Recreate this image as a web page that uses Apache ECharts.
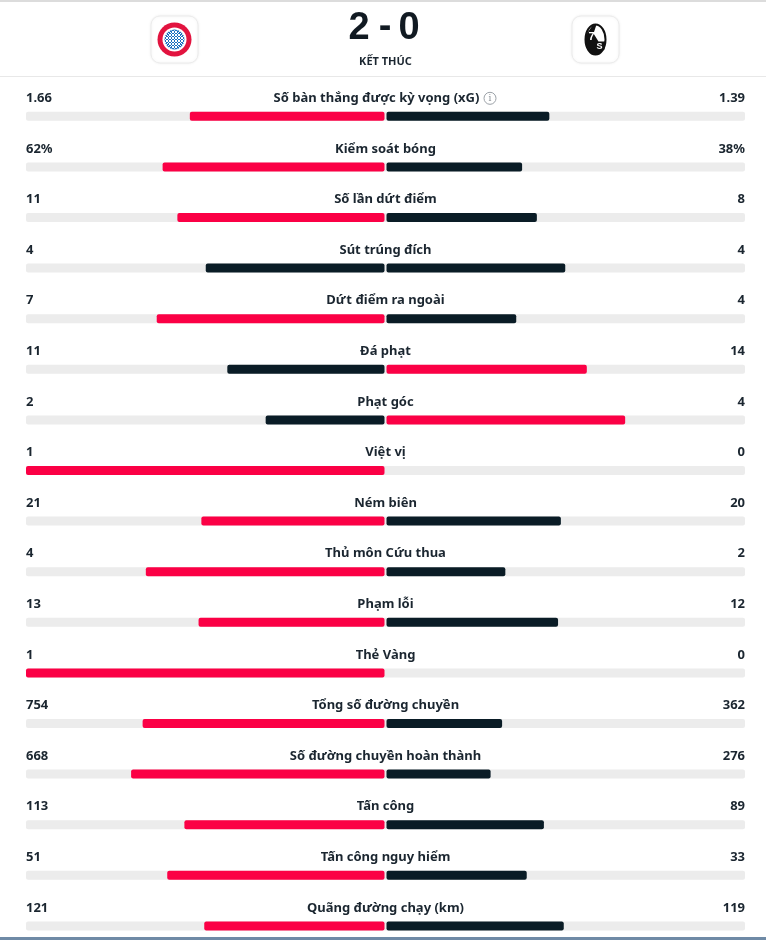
<!DOCTYPE html>
<html>
<head>
<meta charset="utf-8">
<script src="https://cdn.jsdelivr.net/npm/echarts@6/dist/echarts.min.js"></script>
<style>
html,body{margin:0;padding:0;background:#fff;}
#chart{width:766px;height:940px;}
</style>
</head>
<body>
<div id="chart"></div>
<script>
const labels = ['Số bàn thắng được kỳ vọng (xG)', 'Kiểm soát bóng', 'Số lần dứt điểm', 'Sút trúng đích', 'Dứt điểm ra ngoài', 'Đá phạt', 'Phạt góc', 'Việt vị', 'Ném biên', 'Thủ môn Cứu thua', 'Phạm lỗi', 'Thẻ Vàng', 'Tổng số đường chuyền', 'Số đường chuyền hoàn thành', 'Tấn công', 'Tấn công nguy hiểm', 'Quãng đường chạy (km)'];
const homeValues = [1.66, 62, 11, 4, 7, 11, 2, 1, 21, 4, 13, 1, 754, 668, 113, 51, 121];
const awayValues = [1.39, 38, 8, 4, 4, 14, 4, 0, 20, 2, 12, 0, 362, 276, 89, 33, 119];
const homeText = ['1.66', '62%', '11', '4', '7', '11', '2', '1', '21', '4', '13', '1', '754', '668', '113', '51', '121'];
const awayText = ['1.39', '38%', '8', '4', '4', '14', '4', '0', '20', '2', '12', '0', '362', '276', '89', '33', '119'];
const infoRows = [true, false, false, false, false, false, false, false, false, false, false, false, false, false, false, false, false];
const score = ['2', '-', '0'];
const status = 'KẾT THÚC';

const RED = '#fb0045', DARK = '#0a1c26', TRACK = '#ececec', TXT = '#1b2630';
const FONT = '"Noto Sans", "Liberation Sans", sans-serif';

const chart = echarts.init(document.getElementById('chart'), null, {renderer: 'canvas'});

function renderItem(params, api) {
  const i = params.dataIndex;
  const h = homeValues[i], a = awayValues[i];
  const tot = h + a;
  const hs = tot > 0 ? h / tot : 0, as = tot > 0 ? a / tot : 0;
  const yC = api.coord([0, i])[1];
  const xL = api.coord([-1, i])[0];
  const x0 = api.coord([0, i])[0];
  const xR = api.coord([1, i])[0];
  const xH = api.coord([-hs, i])[0];
  const xA = api.coord([as, i])[0];
  const bh = 9;
  const hColor = h > a ? RED : DARK;
  const aColor = a > h ? RED : DARK;
  const ty = yC - 18;
  const children = [
    {type: 'rect', shape: {x: xL, y: yC - bh / 2, width: xR - xL, height: bh, r: 2}, style: {fill: TRACK}},
  ];
  if (hs > 0) children.push({type: 'rect', shape: {x: xH, y: yC - bh / 2, width: Math.max(0, x0 - 1 - xH), height: bh, r: 2}, style: {fill: hColor}});
  if (as > 0) children.push({type: 'rect', shape: {x: x0 + 1, y: yC - bh / 2, width: Math.max(0, xA - x0 - 1), height: bh, r: 2}, style: {fill: aColor}});
  const lx = infoRows[i] ? x0 - 9 : x0;
  children.push(
    {type: 'text', style: {x: xL, y: ty, text: homeText[i], textAlign: 'left', textVerticalAlign: 'middle', fill: TXT, font: 'bold 13px ' + FONT}},
    {type: 'text', style: {x: lx, y: ty, text: labels[i], textAlign: 'center', textVerticalAlign: 'middle', fill: TXT, font: 'bold 13px ' + FONT}},
    {type: 'text', style: {x: xR, y: ty, text: awayText[i], textAlign: 'right', textVerticalAlign: 'middle', fill: TXT, font: 'bold 13px ' + FONT}}
  );
  if (infoRows[i]) {
    children.push(
      {type: 'circle', shape: {cx: x0 + 104.5, cy: ty, r: 6}, style: {fill: 'none', stroke: '#9aa0a6', lineWidth: 1}},
      {type: 'text', style: {x: x0 + 104.5, y: ty, text: 'i', textAlign: 'center', textVerticalAlign: 'middle', fill: '#8a9096', font: '9px "DejaVu Serif"'}}
    );
  }
  return {type: 'group', children};
}

// Bayern-like logo pieces
const bx = 174.5, by = 39.5;
const diamonds = [];
for (let k = -3; k <= 3; k++) {
  diamonds.push({type: 'line', shape: {x1: bx - 9 + k * 3, y1: by - 9, x2: bx + 9 + k * 3, y2: by + 9}, style: {stroke: '#ffffff', lineWidth: 1}});
  diamonds.push({type: 'line', shape: {x1: bx - 9 + k * 3, y1: by + 9, x2: bx + 9 + k * 3, y2: by - 9}, style: {stroke: '#ffffff', lineWidth: 1}});
}
const fx = 595.5, fy = 39.5;

// row pitch ~50.6px, first row centred at y=116; grid fills down to the bottom edge
const rowPitch = 50.6, gridTop = 91, gridHeight = 849;

const option = {
  animation: false,
  grid: {left: 26, right: 21, top: gridTop, height: gridHeight, outerBoundsMode: 'none'},
  xAxis: {type: 'value', min: -1, max: 1, show: false},
  yAxis: {type: 'value', inverse: true, min: -0.5, max: -0.5 + gridHeight / rowPitch, show: false},
  graphic: [
    {type: 'rect', shape: {x: 0, y: 0, width: 766, height: 2}, style: {fill: '#dcdcdc'}},
    {type: 'rect', shape: {x: 0, y: 76, width: 766, height: 1}, style: {fill: '#e8e8e8'}},
    {type: 'rect', shape: {x: 0, y: 937, width: 766, height: 3}, style: {fill: '#6f8aa6'}},
    // home logo box
    {type: 'rect', shape: {x: 151, y: 16, width: 47, height: 47, r: 9}, style: {fill: '#fff', stroke: '#ececec', lineWidth: 1, shadowBlur: 3, shadowColor: 'rgba(0,0,0,0.08)'}},
    {type: 'circle', shape: {cx: bx, cy: by, r: 17}, style: {fill: '#e2133f'}},
    {type: 'circle', shape: {cx: bx, cy: by, r: 12}, style: {fill: '#ffffff'}},
    {type: 'circle', shape: {cx: bx, cy: by, r: 10}, style: {fill: '#1c6fc0'}},
    {type: 'group', children: diamonds, clipPath: {type: 'circle', shape: {cx: bx, cy: by, r: 10}}},
    // away logo box
    {type: 'rect', shape: {x: 572, y: 16, width: 47, height: 47, r: 9}, style: {fill: '#fff', stroke: '#ececec', lineWidth: 1, shadowBlur: 3, shadowColor: 'rgba(0,0,0,0.08)'}},
    {type: 'ellipse', shape: {cx: fx, cy: fy, rx: 10, ry: 15}, style: {fill: '#ffffff', stroke: '#111', lineWidth: 2}},
    {type: 'polygon', shape: {points: [[fx - 10, fy - 4], [fx - 3, fy - 14], [fx + 1, fy - 15], [fx - 2, fy - 6], [fx + 3, fy + 2], [fx + 10, fy + 2], [fx + 9, fy + 10], [fx + 2, fy + 15], [fx - 4, fy + 14], [fx - 9, fy + 8]]}, style: {fill: '#111'}},
    {type: 'text', style: {x: fx - 4, y: fy - 3, text: '7', textAlign: 'center', textVerticalAlign: 'middle', fill: '#fff', font: 'bold 11px "Liberation Sans"'}},
    {type: 'text', style: {x: fx + 4, y: fy + 7, text: 'S', textAlign: 'center', textVerticalAlign: 'middle', fill: '#fff', font: 'bold 9px "Liberation Sans"'}},
    // score
    {type: 'text', style: {x: 359, y: 29, text: score[0], textAlign: 'center', textVerticalAlign: 'middle', fill: '#111a22', font: 'bold 38px "Liberation Sans"'}},
    {type: 'text', style: {x: 385, y: 28, text: score[1], textAlign: 'center', textVerticalAlign: 'middle', fill: '#111a22', font: 'bold 38px "Liberation Sans"'}},
    {type: 'text', style: {x: 409, y: 29, text: score[2], textAlign: 'center', textVerticalAlign: 'middle', fill: '#111a22', font: 'bold 38px "Liberation Sans"'}},
    {type: 'text', style: {x: 385.5, y: 62, text: status, textAlign: 'center', textVerticalAlign: 'middle', fill: '#1b2630', font: 'bold 11px ' + FONT}}
  ],
  series: [{
    type: 'custom',
    renderItem: renderItem,
    encode: {x: 0, y: 1},
    data: labels.map((_, i) => [0, i]),
    clip: false
  }]
};
chart.setOption(option);
</script>
</body>
</html>
